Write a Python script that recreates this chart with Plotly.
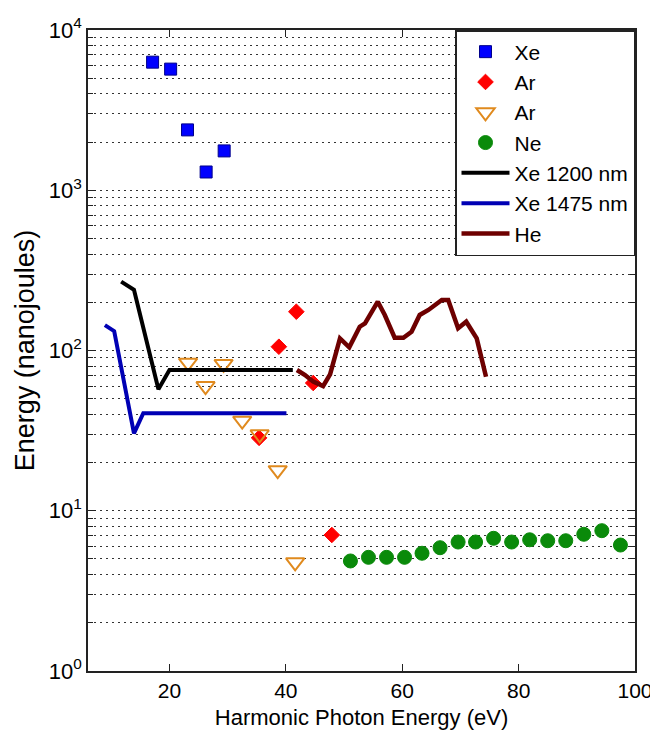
import plotly.graph_objects as go

# ---- data ----
xe_x = [17.1, 20.2, 23.1, 26.3, 29.4]
xe_y = [6300, 5700, 2380, 1300, 1760]

ar_x = [35.4, 38.8, 41.8, 44.7, 47.9]
ar_y = [28.5, 105.6, 174.6, 62.7, 7.06]

ar2_x = [23.2, 26.2, 29.3, 32.5, 35.5, 38.6, 41.6]
ar2_y = [84, 60, 82.4, 36.5, 30, 17.9, 4.77]

ne_x = [51.1, 54.2, 57.3, 60.4, 63.4, 66.5, 69.6, 72.6, 75.7, 78.8, 81.9, 85.0, 88.1, 91.2, 94.3, 97.5]
ne_y = [4.86, 5.12, 5.12, 5.12, 5.43, 5.88, 6.38, 6.38, 6.73, 6.38, 6.59, 6.50, 6.50, 7.13, 7.51, 6.11]

xe1200_x = [11.7, 13.9, 18.1, 20.0, 41.2]
xe1200_y = [269, 239, 57.3, 75.5, 75.5]

xe1475_x = [8.9, 10.5, 13.9, 15.5, 40.1]
xe1475_y = [144, 132, 30.4, 40.6, 40.6]

he_x = [41.9, 43.3, 44.7, 46.4, 47.6, 49.3, 50.9, 52.7, 53.6, 55.8, 57.0, 58.7,
        60.2, 61.6, 63.0, 64.5, 66.8, 67.9, 69.6, 71.0, 72.8, 74.4]
he_y = [75.6, 70.3, 63.9, 60.0, 71.0, 119, 104.7, 140.8, 147.8, 201.6, 166.6, 120.2,
        120.2, 130.9, 166.6, 179, 206.6, 206.6, 137.5, 151.3, 119, 68.6]

x_ticks = [20, 40, 60, 80, 100]
y_ticks = [1, 10, 100, 1000, 10000]
y_ticktext = ["10<sup>0</sup>", "10<sup>1</sup>", "10<sup>2</sup>", "10<sup>3</sup>", "10<sup>4</sup>"]
y_minor = [m * 10 ** d for d in range(4) for m in range(2, 10)]

FONT = "Arial, Liberation Sans, sans-serif"
GRID_DASH = "1.5px,4.5px"

fig = go.Figure()
fig.add_trace(go.Scatter(x=xe_x, y=xe_y, mode="markers", name="Xe",
                         marker=dict(symbol="square", size=12, color="#0000ff",
                                     line=dict(color="#00008b", width=1))))
fig.add_trace(go.Scatter(x=ar_x, y=ar_y, mode="markers", name="Ar",
                         marker=dict(symbol="diamond", size=12, color="#ff0000",
                                     line=dict(color="#ff0000", width=1))))
fig.add_trace(go.Scatter(x=ar2_x, y=ar2_y, mode="markers", name="Ar",
                         marker=dict(symbol="triangle-down-open", size=16, color="#e08a1e",
                                     line=dict(color="#e08a1e", width=2))))
fig.add_trace(go.Scatter(x=ne_x, y=ne_y, mode="markers", name="Ne",
                         marker=dict(symbol="circle", size=14, color="#0a8a0a",
                                     line=dict(color="#0a8a0a", width=1))))
fig.add_trace(go.Scatter(x=xe1200_x, y=xe1200_y, mode="lines", name="Xe 1200 nm",
                         line=dict(color="#000000", width=4)))
fig.add_trace(go.Scatter(x=xe1475_x, y=xe1475_y, mode="lines", name="Xe 1475 nm",
                         line=dict(color="#0000b4", width=4)))
fig.add_trace(go.Scatter(x=he_x, y=he_y, mode="lines", name="He",
                         line=dict(color="#6e0000", width=4.5)))

# the page body adds an 8 px margin, so the figure is sized to fit the 658x730 window
fig.update_layout(
    width=650, height=722,
    margin=dict(l=80, r=23, t=22, b=59),
    paper_bgcolor="white", plot_bgcolor="white",
    font=dict(family=FONT, size=21, color="#000000"),
    legend=dict(x=1, y=1, xanchor="right", yanchor="top",
                bgcolor="white", bordercolor="#222222", borderwidth=1.5,
                font=dict(family=FONT, size=21, color="#000000"),
                itemwidth=48, tracegroupgap=0),
    showlegend=True,
)

fig.update_xaxes(
    range=[6, 100], tickvals=x_ticks, ticks="inside", ticklen=7,
    tickcolor="#222222", showgrid=False, zeroline=False, automargin=False,
    showline=True, linecolor="#222222", linewidth=1.5, mirror="allticks",
    tickfont=dict(family=FONT, size=21),
    title=dict(text="Harmonic Photon Energy (eV)", font=dict(family=FONT, size=22), standoff=14),
)
fig.update_yaxes(
    type="log", range=[0, 4], tickvals=y_ticks, ticktext=y_ticktext,
    ticks="inside", ticklen=8, tickcolor="#222222", automargin=False,
    showgrid=True, gridcolor="#333333", griddash=GRID_DASH, gridwidth=1,
    minor=dict(tickvals=y_minor, ticks="inside", ticklen=5, tickcolor="#222222",
               showgrid=True, gridcolor="#333333", griddash=GRID_DASH, gridwidth=1),
    zeroline=False, showline=True, linecolor="#222222", linewidth=1.5, mirror="allticks",
    tickfont=dict(family=FONT, size=22),
    title=dict(text="Energy (nanojoules)", font=dict(family=FONT, size=27), standoff=6),
)

fig.write_html("out.html")
